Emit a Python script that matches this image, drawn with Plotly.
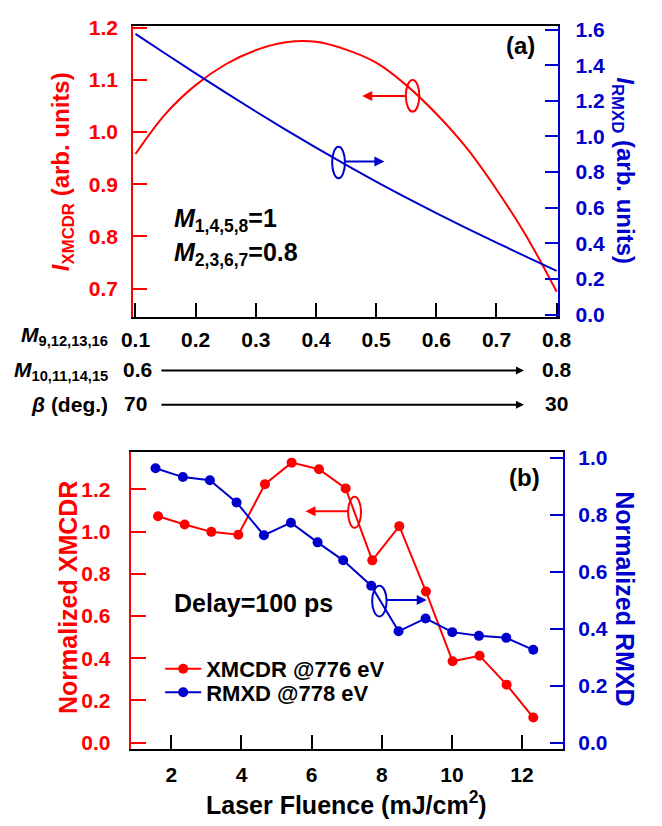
import plotly.graph_objects as go

W, H = 662, 826
def X(px): return px / W
def Y(py): return 1 - py / H

RED = "#FF0000"
BLUE = "#0000CC"
FONT = "Liberation Sans, Arial, sans-serif"

# ---------------- data: panel (a) ----------------
m_values = [0.1, 0.15, 0.2, 0.25, 0.3, 0.35, 0.4, 0.45, 0.5, 0.55, 0.6, 0.65, 0.7, 0.75, 0.8]
i_xmcdr = [0.958, 1.035, 1.090, 1.130, 1.157, 1.172, 1.173, 1.158, 1.133, 1.090, 1.035, 0.970, 0.890, 0.800, 0.694]
i_rmxd = [1.576, 1.464, 1.354, 1.246, 1.140, 1.037, 0.937, 0.840, 0.746, 0.656, 0.569, 0.485, 0.404, 0.324, 0.245]

# ---------------- data: panel (b) ----------------
fluence_xmcdr = [1.62, 2.38, 3.14, 3.91, 4.67, 5.43, 6.21, 6.97, 7.73, 8.50, 9.26, 10.02, 10.79, 11.56, 12.32]
norm_xmcdr = [1.073, 1.034, 0.999, 0.985, 1.225, 1.327, 1.296, 1.205, 0.864, 1.026, 0.716, 0.386, 0.412, 0.275, 0.119]
fluence_rmxd = [1.55, 2.33, 3.10, 3.86, 4.64, 5.41, 6.17, 6.90, 7.70, 8.48, 9.25, 10.01, 10.77, 11.55, 12.32]
norm_rmxd = [0.963, 0.932, 0.921, 0.843, 0.728, 0.772, 0.703, 0.640, 0.551, 0.391, 0.436, 0.388, 0.375, 0.368, 0.326]

fig = go.Figure()

fig.add_trace(go.Scatter(x=m_values, y=i_xmcdr, mode="lines", line=dict(color=RED, width=2, shape="spline"),
                         xaxis="x", yaxis="y", showlegend=False))
fig.add_trace(go.Scatter(x=m_values, y=i_rmxd, mode="lines", line=dict(color=BLUE, width=2, shape="spline"),
                         xaxis="x", yaxis="y2", showlegend=False))

fig.add_trace(go.Scatter(x=fluence_xmcdr, y=norm_xmcdr, mode="lines+markers", name="XMCDR @776 eV",
                         line=dict(color=RED, width=2), marker=dict(color=RED, size=10),
                         xaxis="x2", yaxis="y3", legend="legend"))
fig.add_trace(go.Scatter(x=fluence_rmxd, y=norm_rmxd, mode="lines+markers", name="RMXD @778 eV",
                         line=dict(color=BLUE, width=2), marker=dict(color=BLUE, size=10),
                         xaxis="x2", yaxis="y4", legend="legend2"))

TS = 21
tickfont = lambda c: dict(family=FONT, size=TS, color=c, weight="bold")
common = dict(showgrid=False, zeroline=False, ticks="inside", tickwidth=2, linewidth=2, showline=True)
legfont = dict(family=FONT, size=22, color="black", weight="bold")

fig.update_layout(
    width=W, height=H, margin=dict(l=0, r=0, t=0, b=0),
    paper_bgcolor="white", plot_bgcolor="white",
    font=dict(family=FONT, color="black"),
    xaxis=dict(domain=[X(126), X(567.7)], range=[0.0963, 0.8027], anchor="y", tick0=0.1, dtick=0.1,
               tickformat=".1f", linecolor="black", tickcolor="black", ticklen=14, mirror=True,
               tickfont=tickfont("black"), ticklabelstandoff=3, **common),
    yaxis=dict(domain=[Y(314), Y(16)], range=[0.646, 1.204], anchor="x", dtick=0.1, tickformat=".1f",
               linecolor=RED, tickcolor=RED, ticklen=14, tickfont=tickfont(RED), ticklabelstandoff=9, **common),
    yaxis2=dict(range=[-0.0127, 1.622], overlaying="y", side="right", anchor="x", dtick=0.2, tickformat=".1f",
                linecolor=BLUE, tickcolor=BLUE, ticklen=13, tickfont=tickfont(BLUE), ticklabelstandoff=11, **common),
    xaxis2=dict(domain=[X(123.3), X(572.7)], range=[0.84, 13.17], anchor="y3", dtick=2,
                linecolor="black", tickcolor="black", ticklen=14, mirror=True,
                tickfont=tickfont("black"), ticklabelstandoff=6, **common),
    yaxis3=dict(domain=[Y(756), Y(452.7)], range=[-0.028, 1.376], anchor="x2", dtick=0.2, tickformat=".1f",
                linecolor=RED, tickcolor=RED, ticklen=15, tickfont=tickfont(RED), ticklabelstandoff=14, **common),
    yaxis4=dict(range=[-0.0206, 1.019], overlaying="y3", side="right", anchor="x2", dtick=0.2, tickformat=".1f",
                linecolor=BLUE, tickcolor=BLUE, ticklen=13, tickfont=tickfont(BLUE), ticklabelstandoff=9, **common),
    legend=dict(x=X(154), y=Y(653), xanchor="left", yanchor="top", bgcolor="rgba(0,0,0,0)",
                font=legfont, itemwidth=36),
    legend2=dict(x=X(154), y=Y(677), xanchor="left", yanchor="top", bgcolor="rgba(0,0,0,0)",
                 font=legfont, itemwidth=36),
)

ann = []
def text(px, py, s, size=22, color="black", angle=0, xanchor="center"):
    ann.append(dict(x=X(px), y=Y(py), xref="paper", yref="paper", text=s, showarrow=False,
                    textangle=angle, xanchor=xanchor, yanchor="middle",
                    font=dict(family=FONT, size=size, color=color, weight="bold")))

def arrow(x_head, y_head, x_tail, y_tail, color, width=2, size=1):
    ann.append(dict(x=X(x_head), y=Y(y_head), xref="paper", yref="paper", text="", showarrow=True,
                    ax=x_tail - x_head, ay=y_tail - y_head, arrowcolor=color, arrowwidth=width,
                    arrowhead=2, arrowsize=size))

# axis titles
text(52, 166, "<i>I</i><sub>XMCDR</sub> (arb. units)", 24, RED, -90)
text(636, 165, "<i>I</i><sub>RMXD</sub> (arb. units)", 24, BLUE, 90)
text(58, 601, "Normalized XMCDR", 25, RED, -90)
text(637, 603, "Normalized RMXD", 25, BLUE, 90)
text(348, 812, "Laser Fluence (mJ/cm<sup>2</sup>)", 25, "black")

# panel labels and notes
text(528, 36, "(a)", 24)
text(533, 478, "(b)", 24)
text(166, 215, "<i>M</i><sub>1,4,5,8</sub>=1", 25, xanchor="left")
text(166, 250, "<i>M</i><sub>2,3,6,7</sub>=0.8", 25, xanchor="left")
text(166, 607, "Delay=100 ps", 25, xanchor="left")

# extra parameter rows
text(102, 334, "<i>M</i><sub>9,12,13,16</sub>", 21, xanchor="right")
text(102, 369, "<i>M</i><sub>10,11,14,15</sub>", 21, xanchor="right")
text(102, 404, "<i>β</i> (deg.)", 21, xanchor="right")
text(130, 368, "0.6", TS)
text(566, 368, "0.8", TS)
text(128, 403, "70", TS)
text(566, 403, "30", TS)
arrow(532, 369, 168, 369, "black", 2, 0.8)
arrow(532, 404, 168, 404, "black", 2, 0.8)

# pointer arrows
arrow(364, 88, 409, 88, RED)
arrow(387, 155, 346, 155, BLUE)
arrow(305, 513, 349, 513, RED)
arrow(431, 604, 389, 604, BLUE)

fig.update_layout(annotations=ann)

shapes = []
def ellipse(x0, y0, x1, y1, color):
    shapes.append(dict(type="circle", xref="paper", yref="paper", x0=X(x0), x1=X(x1), y0=Y(y1), y1=Y(y0),
                       line=dict(color=color, width=2)))
ellipse(409.3, 71.7, 423.3, 104, RED)
ellipse(332.7, 140, 346, 172.3, BLUE)
ellipse(349.3, 498.3, 362.7, 530, RED)
ellipse(374.3, 589.3, 389.3, 620.7, BLUE)
fig.update_layout(shapes=shapes)

fig.write_html("out.html")
